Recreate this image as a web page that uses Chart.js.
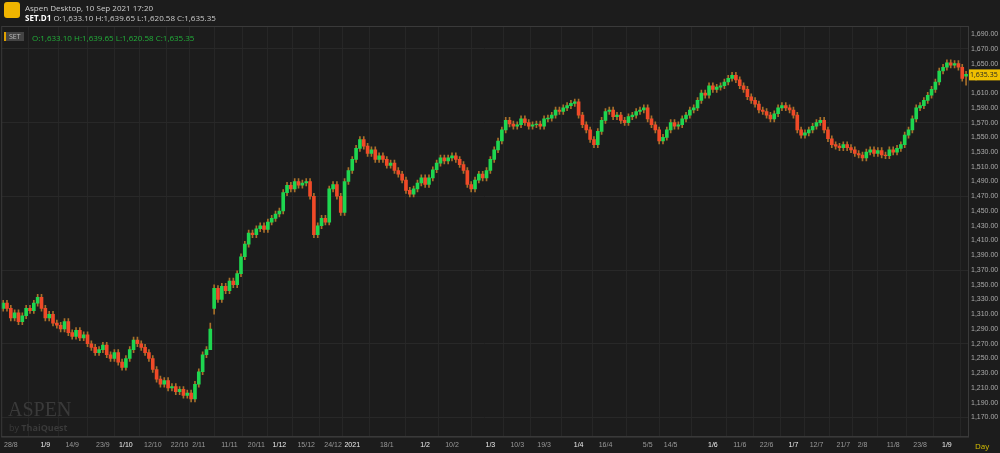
<!DOCTYPE html>
<html><head><meta charset="utf-8">
<script src="https://cdn.jsdelivr.net/npm/chart.js@4"></script>
<style>
html,body{margin:0;padding:0;background:#1c1c1c;width:1000px;height:453px;overflow:hidden;font-family:"Open Sans",sans-serif}
#wrap{position:absolute;left:0;top:0;width:1000px;height:453px}
.t{position:absolute;color:#ddd;white-space:nowrap}
</style></head><body>
<div id="wrap"><canvas id="c" width="1000" height="453"></canvas></div>
<div class="t" style="left:4px;top:2px;width:16px;height:16px;background:#f0b400;border-radius:3px"></div>
<div class="t" style="left:25px;top:2px;font-size:8px;color:#ccc">Aspen Desktop, 10 Sep 2021 17:20</div>
<div class="t" style="left:25px;top:12px;font-size:8px"><b style="color:#fff">SET.D1</b> <span style="color:#ccc">O:1,633.10 H:1,639.65 L:1,620.58 C:1,635.35</span></div>
<div class="t" style="left:4px;top:32px;font-size:7px;background:#444;color:#bbb;padding:0 3px;border-left:2px solid #e0a000">SET</div>
<div class="t" style="left:32px;top:32px;font-size:8px;color:#22b03a">O:1,633.10 H:1,639.65 L:1,620.58 C:1,635.35</div>
<div class="t" style="left:8px;top:398px;font-size:20px;color:#3a3a3a;font-family:'Liberation Serif',serif">ASPEN</div>
<div class="t" style="left:9px;top:421px;font-size:9px;color:#3a3a3a">by <b>ThaiQuest</b></div>
<div class="t" style="left:975px;top:440px;font-size:8px;color:#d8c000">Day</div>
<script>
const closes=[1325,1318,1305,1312,1300,1308,1318,1315,1325,1333,
1318,1305,1310,1298,1295,1290,1300,1285,1280,1288,
1278,1282,1270,1265,1258,1262,1268,1255,1250,1258,
1245,1238,1250,1262,1275,1270,1265,1258,1250,1235,
1222,1215,1220,1210,1212,1205,1208,1200,1203,1195,
1215,1232,1255,1262,1290,1345,1330,1348,1342,1355,
1350,1365,1388,1405,1420,1418,1426,1430,1425,1435,
1440,1446,1450,1475,1485,1480,1490,1485,1488,1490,
1470,1418,1430,1440,1435,1480,1486,1470,1448,1490,
1505,1520,1535,1547,1538,1528,1533,1520,1525,1520,
1512,1515,1505,1500,1492,1478,1473,1480,1488,1495,
1486,1495,1506,1515,1522,1518,1522,1525,1520,1513,
1505,1486,1480,1492,1500,1495,1505,1520,1533,1545,
1560,1573,1568,1565,1567,1575,1570,1565,1567,1568,
1565,1575,1576,1580,1587,1585,1590,1593,1596,1598,
1580,1567,1560,1547,1540,1558,1573,1585,1587,1578,
1580,1573,1570,1578,1580,1585,1587,1590,1575,1567,
1560,1545,1550,1560,1570,1565,1567,1575,1580,1587,
1590,1600,1610,1607,1620,1615,1618,1620,1625,1630,
1634,1628,1620,1615,1605,1600,1595,1587,1585,1580,
1575,1582,1590,1593,1590,1587,1580,1560,1553,1556,
1560,1565,1570,1573,1560,1548,1540,1538,1536,1540,
1536,1533,1528,1526,1522,1530,1533,1528,1532,1526,
1525,1533,1530,1535,1540,1553,1560,1575,1590,1593,
1600,1607,1615,1625,1640,1645,1651,1648,1650,1645,
1630,1635.35];
const tickIdx=[2,11,18,26,32,39,46,51,59,66,72,79,86,91,100,110,117,127,134,141,150,157,168,174,185,192,199,206,212,219,224,232,239,246];
const tickText=['28/8','1/9','14/9','23/9','1/10','12/10','22/10','2/11','11/11','20/11','1/12','15/12','24/12','2021','18/1','1/2','10/2','1/3','10/3','19/3','1/4','16/4','5/5','14/5','1/6','11/6','22/6','1/7','12/7','21/7','2/8','11/8','23/8','1/9'];
const opens=closes.map((c,i)=>i===0?1318:closes[i-1]);
opens[55]=1318; opens[251]=1633.10;
const labels=closes.map((c,i)=>i);
const body=closes.map((c,i)=>[opens[i],c]);
const wick=closes.map((c,i)=>[Math.min(opens[i],c)-4,Math.max(opens[i],c)+4]);
wick[251]=[1620.58,1639.65]; wick[55]=[1310,1350]; wick[54]=[1280,1298];
const up=closes.map((c,i)=>c>=opens[i]);
const pricePlugin={id:'pp',afterDraw(ch){const y=ch.scales.y.getPixelForValue(1635.35),ctx=ch.ctx;
ctx.fillStyle='#f0c000';ctx.fillRect(968,y-5,32,11);ctx.fillStyle='#222';ctx.font='7px "Open Sans"';ctx.textBaseline='middle';ctx.fillText('1,635.35',970,y+0.5);
ctx.strokeStyle='#3a3a3a';ctx.lineWidth=1;ctx.strokeRect(ch.chartArea.left+0.5,ch.chartArea.top+0.5,ch.chartArea.width,ch.chartArea.height);}};
new Chart(document.getElementById('c'),{type:'bar',data:{labels,datasets:[
{data:wick,backgroundColor:'#a8702a',barThickness:1,grouped:false,order:2},
{data:body,backgroundColor:up.map(u=>u?'#1ed650':'#f04a28'),barThickness:3,grouped:false,order:1}]},
options:{responsive:false,animation:false,layout:{padding:{top:26,left:0,right:0,bottom:0}},
plugins:{legend:{display:false},tooltip:{enabled:false}},
scales:{x:{offset:true,grid:{color:'#262626',drawTicks:false},border:{color:'#3a3a3a'},
ticks:{autoSkip:false,maxRotation:0,padding:4,color:ctx=>{const t=tickText[tickIdx.indexOf(ctx.tick.value)];return /^1\/|2021/.test(t)?'#eee':'#999'},font:{size:7},
callback:(v)=>{const k=tickIdx.indexOf(v);return k<0?null:tickText[k];}}},
y:{position:'right',min:1144,max:1701,afterBuildTicks:s=>{const t=[];for(let v=1170;v<=1690;v+=20)t.push({value:v});s.ticks=t;},
afterFit:s=>{s.width=32},grid:{color:ctx=>ctx.index%5===0?'#282828':'rgba(0,0,0,0)',drawTicks:false},border:{color:'#3a3a3a'},
ticks:{color:'#aaa',font:{size:7},padding:3,callback:v=>v.toLocaleString('en-US',{minimumFractionDigits:2})}}}},
plugins:[pricePlugin]});
</script></body></html>
